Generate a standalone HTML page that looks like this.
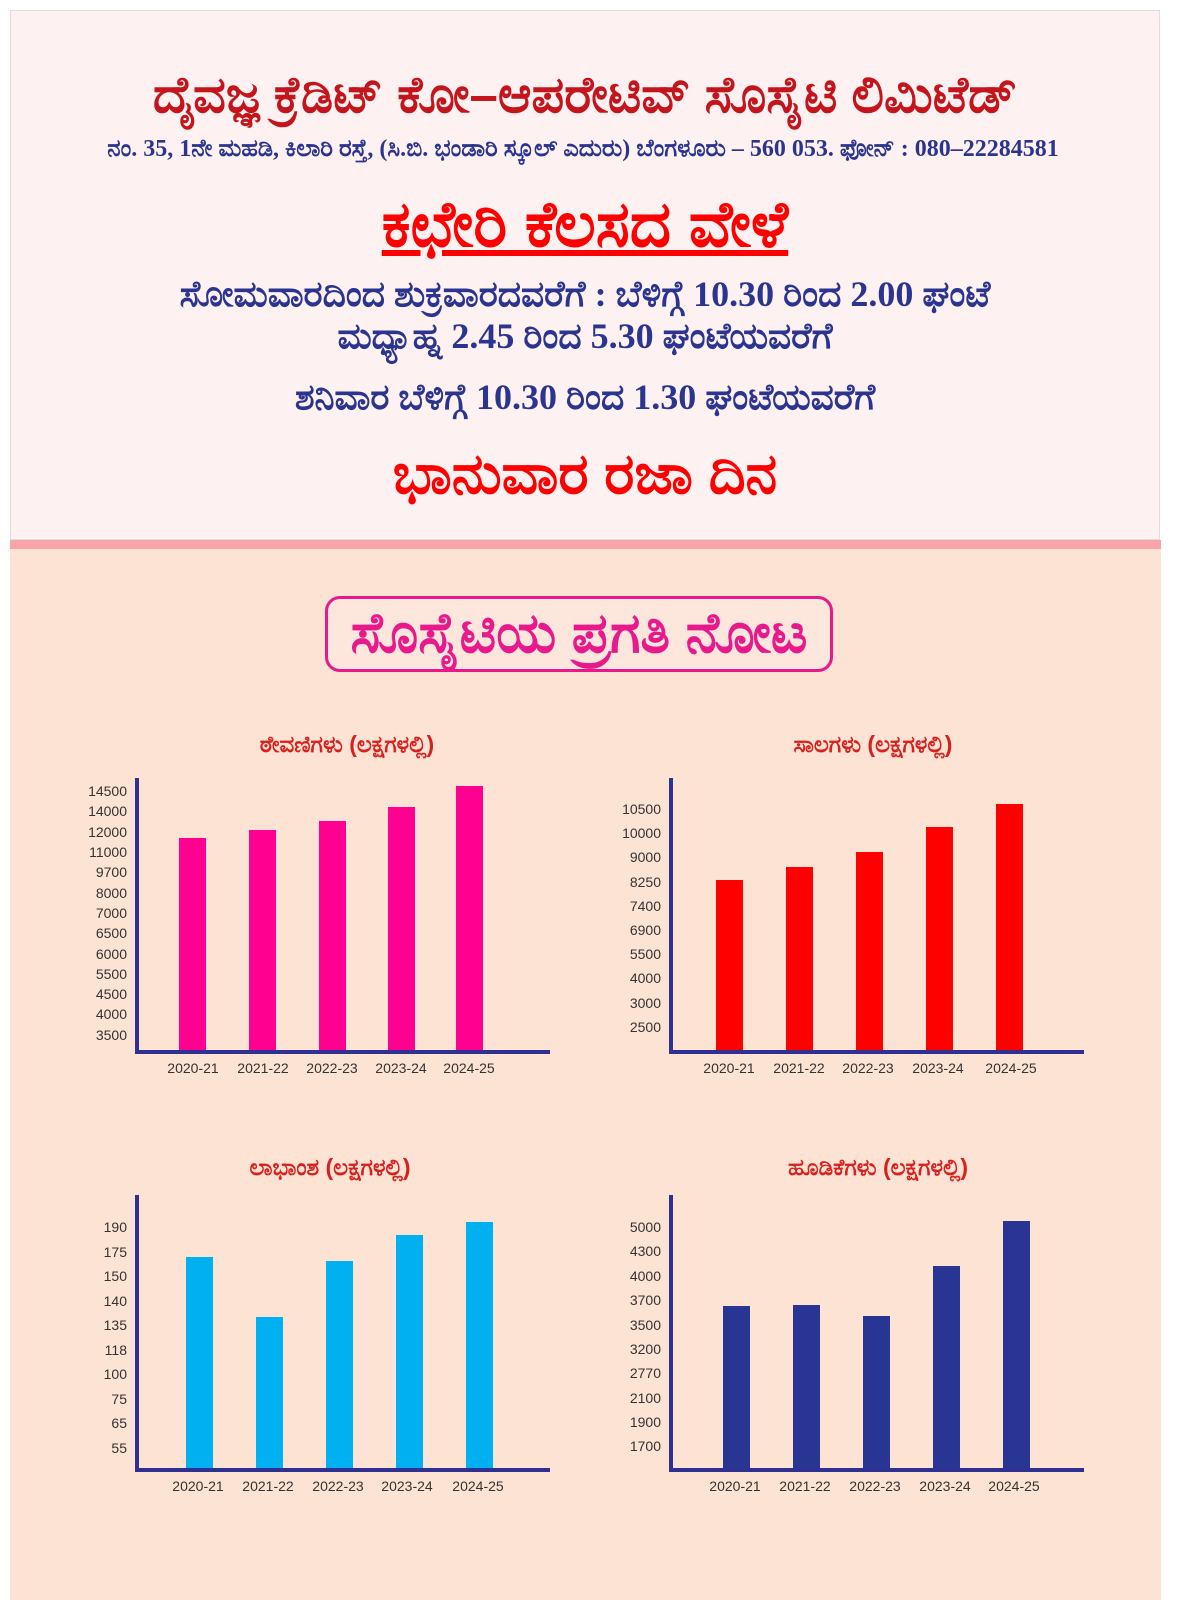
<!DOCTYPE html>
<html><head><meta charset="utf-8"><style>
html,body{margin:0;padding:0;overflow:hidden;background:#fde3d4}
#s{position:fixed;left:0;top:0;width:100vw;height:100vh;display:block}
#w{position:relative;width:1202px;height:1600px;overflow:hidden;font-family:"Liberation Sans",sans-serif;background:#fff}
.a{position:absolute;white-space:nowrap;line-height:1.2}
.c{text-align:center}
</style></head><body>
<svg id="s" viewBox="0 0 1202 1600" preserveAspectRatio="none" xmlns="http://www.w3.org/2000/svg">
<foreignObject x="0" y="0" width="1202" height="1600">
<div xmlns="http://www.w3.org/1999/xhtml" id="w">
<div class="a" style="left:10px;top:10px;width:1150px;height:530px;background:#fdf1f1;border:1px solid #ddd;box-sizing:border-box"></div>
<div class="a" style="left:10px;top:540px;width:1151px;height:9px;background:#f8a4a8"></div>
<div class="a" style="left:10px;top:549px;width:1151px;height:1051px;background:#fde3d4"></div>

<div class="a c" style="left:0;width:1170px;top:64px;font-size:51px;font-weight:bold;color:#c4151c">ದೈವಜ್ಞ ಕ್ರೆಡಿಟ್ ಕೋ–ಆಪರೇಟಿವ್ ಸೊಸೈಟಿ ಲಿಮಿಟೆಡ್</div>
<div class="a c" style="left:0;width:1166px;top:135px;font-size:24px;font-weight:bold;color:#2b3590;font-family:'Liberation Serif',serif">ನಂ. 35, 1ನೇ ಮಹಡಿ, ಕಿಲಾರಿ ರಸ್ತೆ, (ಸಿ.ಬಿ. ಭಂಡಾರಿ ಸ್ಕೂಲ್ ಎದುರು) ಬೆಂಗಳೂರು – 560 053. ಫೋನ್ : 080–22284581</div>
<div class="a c" style="left:0;width:1170px;top:186px;font-size:64px;font-weight:bold;color:#ff0000;text-decoration:underline">ಕಛೇರಿ ಕೆಲಸದ ವೇಳೆ</div>
<div class="a c" style="left:0;width:1170px;top:273px;font-size:36px;font-weight:bold;color:#2b3590;font-family:'Liberation Serif',serif">ಸೋಮವಾರದಿಂದ ಶುಕ್ರವಾರದವರೆಗೆ : ಬೆಳಿಗ್ಗೆ 10.30 ರಿಂದ 2.00 ಘಂಟೆ</div>
<div class="a c" style="left:0;width:1170px;top:315px;font-size:36px;font-weight:bold;color:#2b3590;font-family:'Liberation Serif',serif">ಮಧ್ಯಾಹ್ನ 2.45 ರಿಂದ 5.30 ಘಂಟೆಯವರೆಗೆ</div>
<div class="a c" style="left:0;width:1170px;top:376px;font-size:36px;font-weight:bold;color:#2b3590;font-family:'Liberation Serif',serif">ಶನಿವಾರ ಬೆಳಿಗ್ಗೆ 10.30 ರಿಂದ 1.30 ಘಂಟೆಯವರೆಗೆ</div>
<div class="a c" style="left:0;width:1170px;top:440px;font-size:57px;font-weight:bold;color:#ff0000">ಭಾನುವಾರ ರಜಾ ದಿನ</div>

<div class="a" style="left:325px;top:596px;width:508px;height:76px;border:3px solid #e8198b;border-radius:15px;box-sizing:border-box;background:#fde6dc"></div>
<div class="a c" style="left:325px;width:508px;top:601px;font-size:56px;line-height:64px;font-weight:bold;color:#e8198b">ಸೊಸೈಟಿಯ ಪ್ರಗತಿ ನೋಟ</div>

<svg class="a" style="left:0;top:0" width="1202" height="1600" font-family="Liberation Sans, sans-serif">
<g font-size="23" font-weight="bold" fill="#d8201e" text-anchor="middle">
<text x="347" y="752">ಠೇವಣಿಗಳು (ಲಕ್ಷಗಳಲ್ಲಿ)</text>
<text x="873" y="752">ಸಾಲಗಳು (ಲಕ್ಷಗಳಲ್ಲಿ)</text>
<text x="330" y="1175">ಲಾಭಾಂಶ (ಲಕ್ಷಗಳಲ್ಲಿ)</text>
<text x="878" y="1175">ಹೂಡಿಕೆಗಳು (ಲಕ್ಷಗಳಲ್ಲಿ)</text>
</g>
<g fill="#ff0090">
<rect x="179" y="838" width="27" height="214"/><rect x="249" y="830" width="27" height="222"/><rect x="319" y="821" width="27" height="231"/><rect x="388" y="807" width="27" height="245"/><rect x="456" y="786" width="27" height="266"/>
</g>
<g fill="#ff0000">
<rect x="716" y="880" width="27" height="172"/><rect x="786" y="867" width="27" height="185"/><rect x="856" y="852" width="27" height="200"/><rect x="926" y="827" width="27" height="225"/><rect x="996" y="804" width="27" height="248"/>
</g>
<g fill="#00b0f0">
<rect x="186" y="1257" width="27" height="213"/><rect x="256" y="1317" width="27" height="153"/><rect x="326" y="1261" width="27" height="209"/><rect x="396" y="1235" width="27" height="235"/><rect x="466" y="1222" width="27" height="248"/>
</g>
<g fill="#283593">
<rect x="723" y="1306" width="27" height="164"/><rect x="793" y="1305" width="27" height="165"/><rect x="863" y="1316" width="27" height="154"/><rect x="933" y="1266" width="27" height="204"/><rect x="1003" y="1221" width="27" height="249"/>
</g>
<g stroke="#2e3192" stroke-width="4" fill="none">
<path d="M137 778V1052H550"/><path d="M671 778V1052H1084"/><path d="M137 1195V1470H550"/><path d="M671 1195V1470H1084"/>
</g>
<g font-size="14" fill="#333" text-anchor="end">
<text x="127" y="796">14500</text><text x="127" y="816">14000</text><text x="127" y="837">12000</text><text x="127" y="857">11000</text><text x="127" y="877">9700</text><text x="127" y="898">8000</text><text x="127" y="918">7000</text><text x="127" y="938">6500</text><text x="127" y="959">6000</text><text x="127" y="979">5500</text><text x="127" y="999">4500</text><text x="127" y="1019">4000</text><text x="127" y="1040">3500</text>
<text x="661" y="814">10500</text><text x="661" y="838">10000</text><text x="661" y="862">9000</text><text x="661" y="887">8250</text><text x="661" y="911">7400</text><text x="661" y="935">6900</text><text x="661" y="959">5500</text><text x="661" y="983">4000</text><text x="661" y="1008">3000</text><text x="661" y="1032">2500</text>
<text x="127" y="1232">190</text><text x="127" y="1257">175</text><text x="127" y="1281">150</text><text x="127" y="1306">140</text><text x="127" y="1330">135</text><text x="127" y="1355">118</text><text x="127" y="1379">100</text><text x="127" y="1404">75</text><text x="127" y="1428">65</text><text x="127" y="1453">55</text>
<text x="661" y="1232">5000</text><text x="661" y="1256">4300</text><text x="661" y="1281">4000</text><text x="661" y="1305">3700</text><text x="661" y="1330">3500</text><text x="661" y="1354">3200</text><text x="661" y="1378">2770</text><text x="661" y="1403">2100</text><text x="661" y="1427">1900</text><text x="661" y="1451">1700</text>
</g>
<g font-size="14" fill="#333" text-anchor="middle">
<text x="193" y="1073">2020-21</text><text x="263" y="1073">2021-22</text><text x="332" y="1073">2022-23</text><text x="401" y="1073">2023-24</text><text x="469" y="1073">2024-25</text>
<text x="729" y="1073">2020-21</text><text x="799" y="1073">2021-22</text><text x="868" y="1073">2022-23</text><text x="938" y="1073">2023-24</text><text x="1011" y="1073">2024-25</text>
<text x="198" y="1491">2020-21</text><text x="268" y="1491">2021-22</text><text x="338" y="1491">2022-23</text><text x="407" y="1491">2023-24</text><text x="478" y="1491">2024-25</text>
<text x="735" y="1491">2020-21</text><text x="805" y="1491">2021-22</text><text x="875" y="1491">2022-23</text><text x="945" y="1491">2023-24</text><text x="1014" y="1491">2024-25</text>
</g>
</svg>
</div>
</foreignObject>
</svg>
</body></html>
